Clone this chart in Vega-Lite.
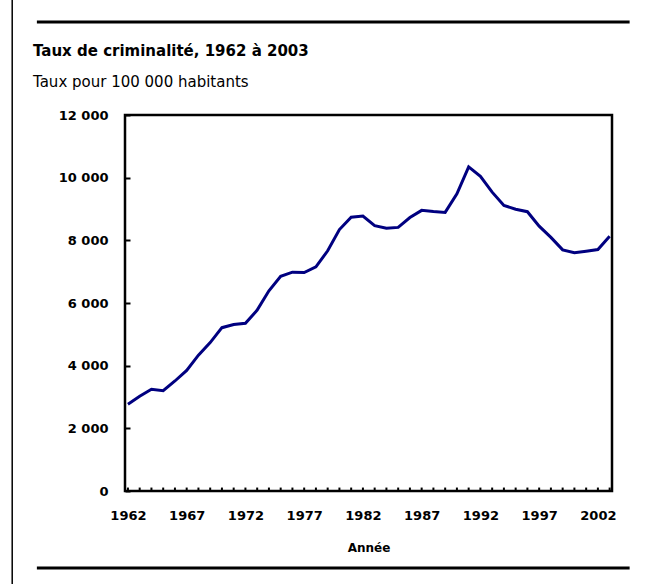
{
  "$schema": "https://vega.github.io/schema/vega-lite/v6.json",
  "width": 487,
  "height": 376,
  "autosize": "none",
  "padding": {"left": 125, "top": 115, "right": 47, "bottom": 93},
  "background": "white",
  "config": {
    "font": "DejaVu Sans",
    "view": {"stroke": "black", "strokeWidth": 2.5}
  },
  "datasets": {
    "taux": [
      {"annee": 1962, "taux": 2771}, {"annee": 1963, "taux": 3022}, {"annee": 1964, "taux": 3245},
      {"annee": 1965, "taux": 3199}, {"annee": 1966, "taux": 3511}, {"annee": 1967, "taux": 3850},
      {"annee": 1968, "taux": 4336}, {"annee": 1969, "taux": 4737}, {"annee": 1970, "taux": 5212},
      {"annee": 1971, "taux": 5311}, {"annee": 1972, "taux": 5355}, {"annee": 1973, "taux": 5773},
      {"annee": 1974, "taux": 6388}, {"annee": 1975, "taux": 6852}, {"annee": 1976, "taux": 6984},
      {"annee": 1977, "taux": 6971}, {"annee": 1978, "taux": 7154}, {"annee": 1979, "taux": 7666},
      {"annee": 1980, "taux": 8343}, {"annee": 1981, "taux": 8736}, {"annee": 1982, "taux": 8773},
      {"annee": 1983, "taux": 8470}, {"annee": 1984, "taux": 8387}, {"annee": 1985, "taux": 8413},
      {"annee": 1986, "taux": 8727}, {"annee": 1987, "taux": 8957}, {"annee": 1988, "taux": 8919},
      {"annee": 1989, "taux": 8892}, {"annee": 1990, "taux": 9485}, {"annee": 1991, "taux": 10342},
      {"annee": 1992, "taux": 10040}, {"annee": 1993, "taux": 9538}, {"annee": 1994, "taux": 9114},
      {"annee": 1995, "taux": 8993}, {"annee": 1996, "taux": 8914}, {"annee": 1997, "taux": 8453},
      {"annee": 1998, "taux": 8094}, {"annee": 1999, "taux": 7695}, {"annee": 2000, "taux": 7607},
      {"annee": 2001, "taux": 7655}, {"annee": 2002, "taux": 7706}, {"annee": 2003, "taux": 8132}
    ]
  },
  "title": {
    "text": "Taux de criminalité, 1962 à 2003",
    "subtitle": "Taux pour 100 000 habitants",
    "anchor": "start",
    "frame": "group",
    "dx": -92,
    "offset": -92,
    "font": "DejaVu Sans",
    "fontSize": 15,
    "fontWeight": "bold",
    "color": "black",
    "subtitleFont": "DejaVu Sans",
    "subtitleFontSize": 15,
    "subtitleColor": "black",
    "subtitlePadding": 16
  },
  "layer": [
    {
      "data": {"name": "taux"},
      "mark": {"type": "line", "color": "#000080", "strokeWidth": 3},
      "encoding": {
        "x": {
          "field": "annee",
          "type": "quantitative",
          "scale": {"domain": [1961.75, 2003.2], "nice": false, "zero": false},
          "axis": {
            "title": "Année",
            "titleFont": "DejaVu Sans",
            "titleFontSize": 12,
            "titleFontWeight": "bold",
            "titleColor": "black",
            "titlePadding": 20,
            "values": [1962, 1967, 1972, 1977, 1982, 1987, 1992, 1997, 2002],
            "format": "d",
            "labelFont": "DejaVu Sans",
            "labelFontSize": 13,
            "labelFontWeight": "bold",
            "labelColor": "black",
            "labelPadding": 18,
            "labelFlush": false,
            "labelOverlap": false,
            "ticks": false,
            "tickSize": 0,
            "domain": false,
            "grid": false
          }
        },
        "y": {
          "field": "taux",
          "type": "quantitative",
          "scale": {"domain": [0, 12000], "nice": false},
          "axis": {
            "title": null,
            "values": [0, 2000, 4000, 6000, 8000, 10000, 12000],
            "labelExpr": "replace(format(datum.value, ','), ',', ' ')",
            "labelFont": "DejaVu Sans",
            "labelFontSize": 13,
            "labelFontWeight": "bold",
            "labelColor": "black",
            "labelPadding": 17,
            "labelFlush": false,
            "labelOverlap": false,
            "offset": -5,
            "tickSize": 5,
            "tickColor": "black",
            "tickWidth": 2,
            "domain": false,
            "grid": false
          }
        }
      }
    },
    {
      "data": {"name": "taux"},
      "mark": {"type": "rule", "color": "black", "strokeWidth": 2},
      "encoding": {
        "x": {"field": "annee", "type": "quantitative"},
        "y": {"datum": 0},
        "y2": {"datum": 110}
      }
    },
    {
      "data": {"values": [{"ligne": "haut"}]},
      "mark": {"type": "rule", "color": "black", "strokeWidth": 3, "clip": false},
      "encoding": {
        "x": {"datum": 1954.25},
        "x2": {"datum": 2004.7},
        "y": {"datum": 14968}
      }
    },
    {
      "data": {"values": [{"ligne": "bas"}]},
      "mark": {"type": "rule", "color": "black", "strokeWidth": 3, "clip": false},
      "encoding": {
        "x": {"datum": 1954.25},
        "x2": {"datum": 2004.7},
        "y": {"datum": -2457}
      }
    },
    {
      "data": {"values": [{"ligne": "gauche"}]},
      "mark": {"type": "rule", "color": "black", "strokeWidth": 1.5, "clip": false},
      "encoding": {
        "x": {"datum": 1952.15},
        "y": {"datum": 15700},
        "y2": {"datum": -3000}
      }
    }
  ]
}
